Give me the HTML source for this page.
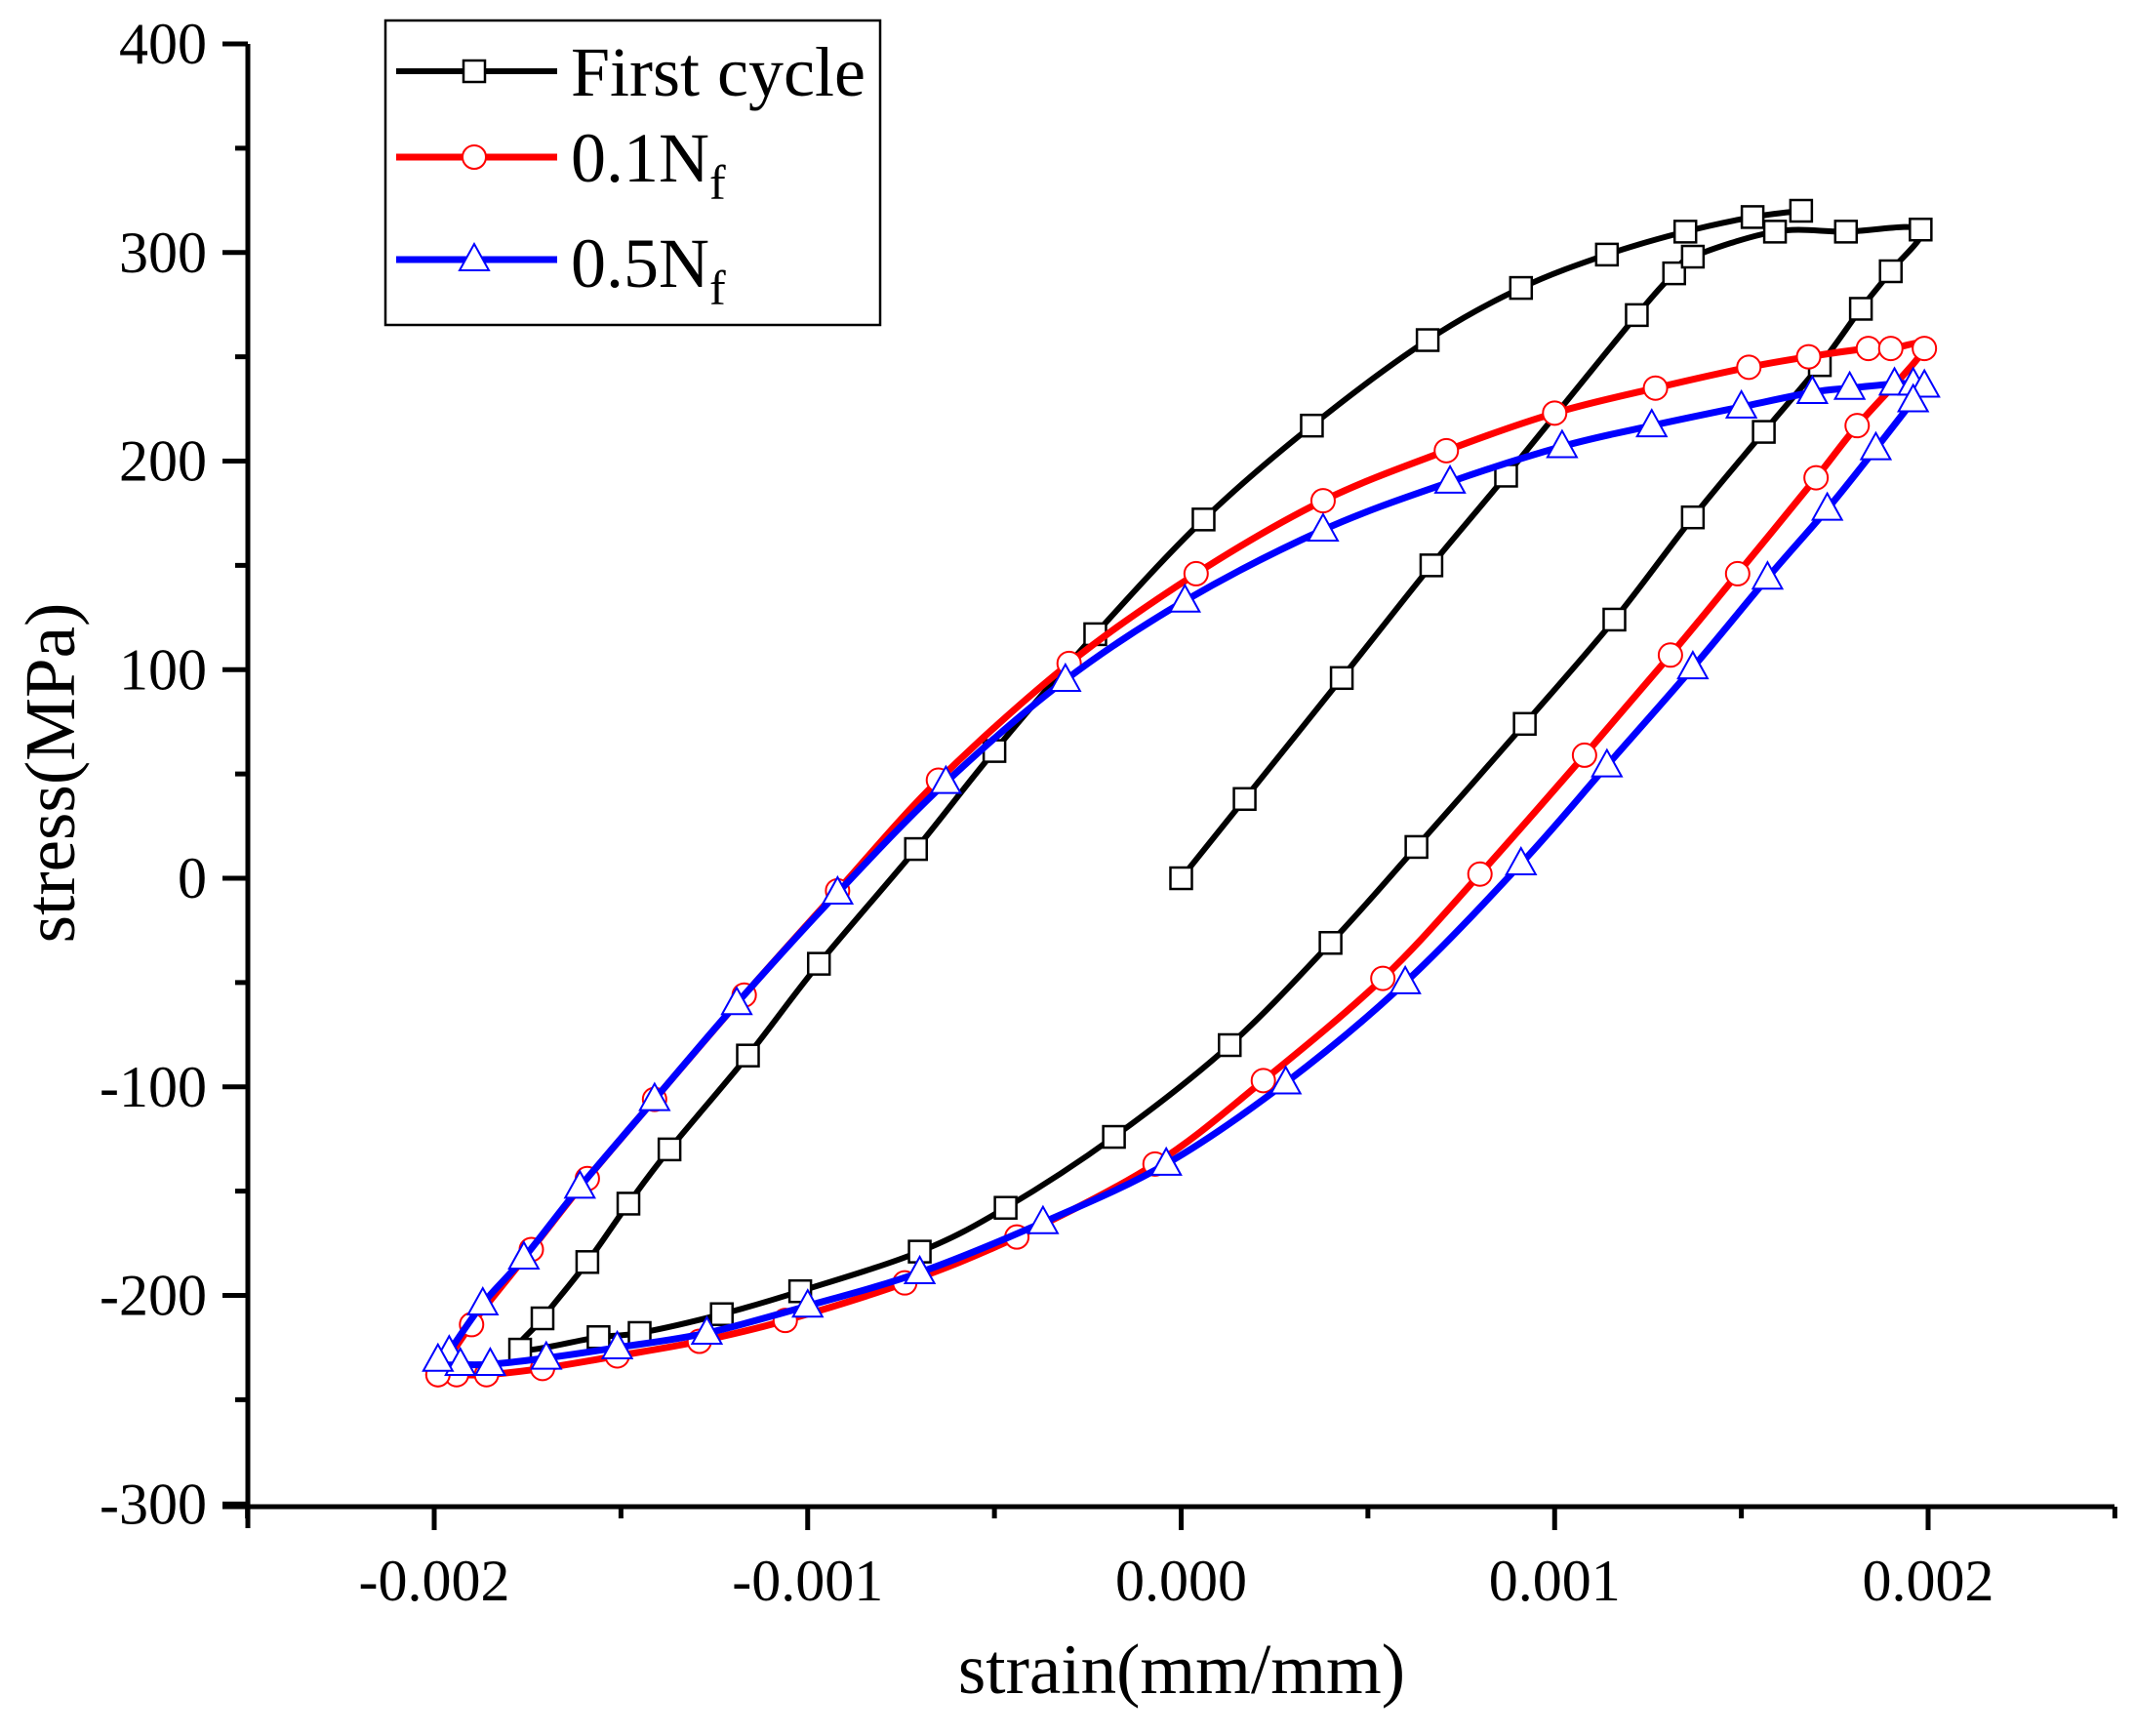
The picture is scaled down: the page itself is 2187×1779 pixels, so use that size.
<!DOCTYPE html>
<html><head><meta charset="utf-8"><style>
html,body{margin:0;padding:0;background:#fff;}
svg{display:block;}
text{font-family:"Liberation Serif","Times New Roman",serif;fill:#000;}
</style></head><body>
<svg id="chart" width="2187" height="1779" viewBox="0 0 2187 1779" xmlns="http://www.w3.org/2000/svg">
<g id="axes"></g>
<g id="series"></g>
<g id="legend">
  <rect x="395" y="21" width="507" height="312" fill="#fff" stroke="#000" stroke-width="2.5"/>
  <g>
    <line x1="406" y1="73" x2="571" y2="73" stroke="#000" stroke-width="6"/>
    <rect x="475" y="62" width="22" height="22" fill="#fff" stroke="#000" stroke-width="2.5"/>
    <text x="585" y="98" font-size="72">First cycle</text>
  </g>
  <g>
    <line x1="406" y1="161" x2="571" y2="161" stroke="#f00" stroke-width="7"/>
    <circle cx="486" cy="161" r="12" fill="#fff" stroke="#f00" stroke-width="2"/>
    <text x="585" y="186" font-size="72">0.1N<tspan font-size="50" dy="18">f</tspan></text>
  </g>
  <g>
    <line x1="406" y1="266" x2="571" y2="266" stroke="#00f" stroke-width="7"/>
    <polygon points="486,250 471,277 501,277" fill="#fff" stroke="#00f" stroke-width="2"/>
    <text x="585" y="294" font-size="72">0.5N<tspan font-size="50" dy="18">f</tspan></text>
  </g>
</g>
</svg>
<script>
// strain values in units of 1e-3 mm/mm, stress in MPa
const firstStrain = [0,0.17,0.43,0.67,0.87,1.22,1.32,1.37,1.59,1.78,1.98,1.90,1.82,1.71,1.56,1.37,1.16,0.92,0.63,0.40,0.13,-0.18,-0.47,-0.70,-1.02,-1.23,-1.45,-1.56,-1.77,-1.71,-1.59,-1.48,-1.37,-1.16,-0.97,-0.71,-0.50,-0.23,0.06,0.35,0.66,0.91,1.14,1.35,1.53,1.66];
const firstStress = [0,38,96,150,193,270,290,298,310,310,311,291,273,246,214,173,124,74,15,-31,-80,-124,-158,-179,-198,-209,-218,-220,-226,-211,-184,-156,-130,-85,-41,14,61,117,172,217,258,283,299,310,317,320];
const redStrain = [-1.99,-1.90,-1.74,-1.59,-1.41,-1.17,-0.92,-0.65,-0.30,0.04,0.38,0.71,1.00,1.27,1.52,1.68,1.84,1.90,1.99,1.81,1.70,1.49,1.31,1.08,0.80,0.54,0.22,-0.07,-0.44,-0.74,-1.06,-1.29,-1.51,-1.71,-1.86,-1.94,-1.99];
const redStress = [-238,-214,-178,-144,-106,-56,-6,47,103,146,181,205,223,235,245,250,254,254,254,217,192,146,107,59,2,-48,-97,-137,-172,-194,-212,-222,-229,-235,-238,-238,-238];
const blueStrain = [-1.96,-1.87,-1.76,-1.61,-1.41,-1.19,-0.92,-0.63,-0.31,0.01,0.38,0.72,1.02,1.26,1.50,1.69,1.79,1.91,1.96,1.99,1.96,1.86,1.73,1.57,1.37,1.14,0.91,0.60,0.28,-0.04,-0.37,-0.70,-1.00,-1.27,-1.51,-1.70,-1.85,-1.93,-1.99];
const blueStress = [-227,-204,-182,-148,-106,-60,-7,46,95,133,167,190,207,217,226,233,235,237,237,236,229,206,177,144,101,54,7,-50,-98,-137,-165,-189,-205,-218,-225,-230,-233,-233,-231];
const xTicks = [-0.002,-0.001,0,0.001,0.002];
const xTickLabels = ["-0.002","-0.001","0.000","0.001","0.002"];
const yTicks = [-300,-200,-100,0,100,200,300,400];
const yTickLabels = ["-300","-200","-100","0","100","200","300","400"];

const NS="http://www.w3.org/2000/svg";
function sx(v){return 445+(v+0.002)/0.004*1531;}
function sy(v){return 900-v*2.1375;}
function mk(tag,attrs,parent){const e=document.createElementNS(NS,tag);for(const k in attrs)e.setAttribute(k,attrs[k]);parent.appendChild(e);return e;}
const axes=document.getElementById('axes');
const L=254,R=2167,B=1544,T=45;
let e;
e=mk('line',{x1:L,y1:T,x2:L,y2:B+22,stroke:'#000','stroke-width':5},axes);


e=mk('line',{x1:L-26,y1:B,x2:R,y2:B,stroke:'#000','stroke-width':5},axes);


for(let v=-300;v<=400;v+=50){
  const major=(v%100===0);
  e=mk('line',{x1:L-(major?26:13),y1:sy(v),x2:L,y2:sy(v),stroke:'#000','stroke-width':5},axes);
  
  
}
yTicks.forEach((v,i)=>{
  e=mk('text',{x:212,y:sy(v)+20,'font-size':60,'text-anchor':'end'},axes);
  e.textContent=yTickLabels[i];
  
  
});
for(let k=-5;k<=5;k++){
  const v=k*0.0005;const major=(k%2===0);
  e=mk('line',{x1:sx(v),y1:B,x2:sx(v),y2:B+(major?24:12),stroke:'#000','stroke-width':5},axes);
  
  
}
xTicks.forEach((v,i)=>{
  e=mk('text',{x:sx(v),y:1640,'font-size':60,'text-anchor':'middle'},axes);
  e.textContent=xTickLabels[i];
  
  
});
e=mk('text',{x:1211,y:1735,'font-size':73,'text-anchor':'middle'},axes);
e.textContent='strain(mm/mm)';


e=mk('text',{x:0,y:0,'font-size':73,'text-anchor':'middle',transform:'translate(76,792) rotate(-90)'},axes);
e.textContent='stress(MPa)';



function smoothPath(px,py){
  let d='M'+px[0]+','+py[0];
  for(let i=0;i<px.length-1;i++){
    const x0=px[Math.max(i-1,0)],y0=py[Math.max(i-1,0)];
    const x1=px[i],y1=py[i],x2=px[i+1],y2=py[i+1];
    const x3=px[Math.min(i+2,px.length-1)],y3=py[Math.min(i+2,px.length-1)];
    const c1x=x1+(x2-x0)/6,c1y=y1+(y2-y0)/6,c2x=x2-(x3-x1)/6,c2y=y2-(y3-y1)/6;
    d+=' C'+c1x.toFixed(1)+','+c1y.toFixed(1)+' '+c2x.toFixed(1)+','+c2y.toFixed(1)+' '+x2.toFixed(1)+','+y2.toFixed(1);
  }
  return d;
}
const series=document.getElementById('series');
function drawSeries(name,xs,ys,color,w,marker){
  const g=mk('g',{},series);
  
  
  const px=xs.map(v=>sx(v*1e-3)),py=ys.map(v=>sy(v));
  const p=mk('path',{d:smoothPath(px,py),fill:'none',stroke:color,'stroke-width':w,'stroke-linejoin':'round'},g);
  
  
  px.forEach((x,i)=>{
    const y=py[i];let m;
    if(marker==='square')m=mk('rect',{x:x-11,y:y-11,width:22,height:22,fill:'#fff',stroke:'#000','stroke-width':2.5},g);
    else if(marker==='circle')m=mk('circle',{cx:x,cy:y,r:12,fill:'#fff',stroke:'#f00','stroke-width':2},g);
    else m=mk('polygon',{points:(x)+','+(y-16)+' '+(x-15)+','+(y+11)+' '+(x+15)+','+(y+11),fill:'#fff',stroke:'#00f','stroke-width':2},g);
    
    
  });
}
drawSeries('series-first-cycle',firstStrain,firstStress,'#000',6,'square');
drawSeries('series-0.1nf',redStrain,redStress,'#f00',7,'circle');
drawSeries('series-0.5nf',blueStrain,blueStress,'#00f',7,'triangle');
</script>
</body></html>
